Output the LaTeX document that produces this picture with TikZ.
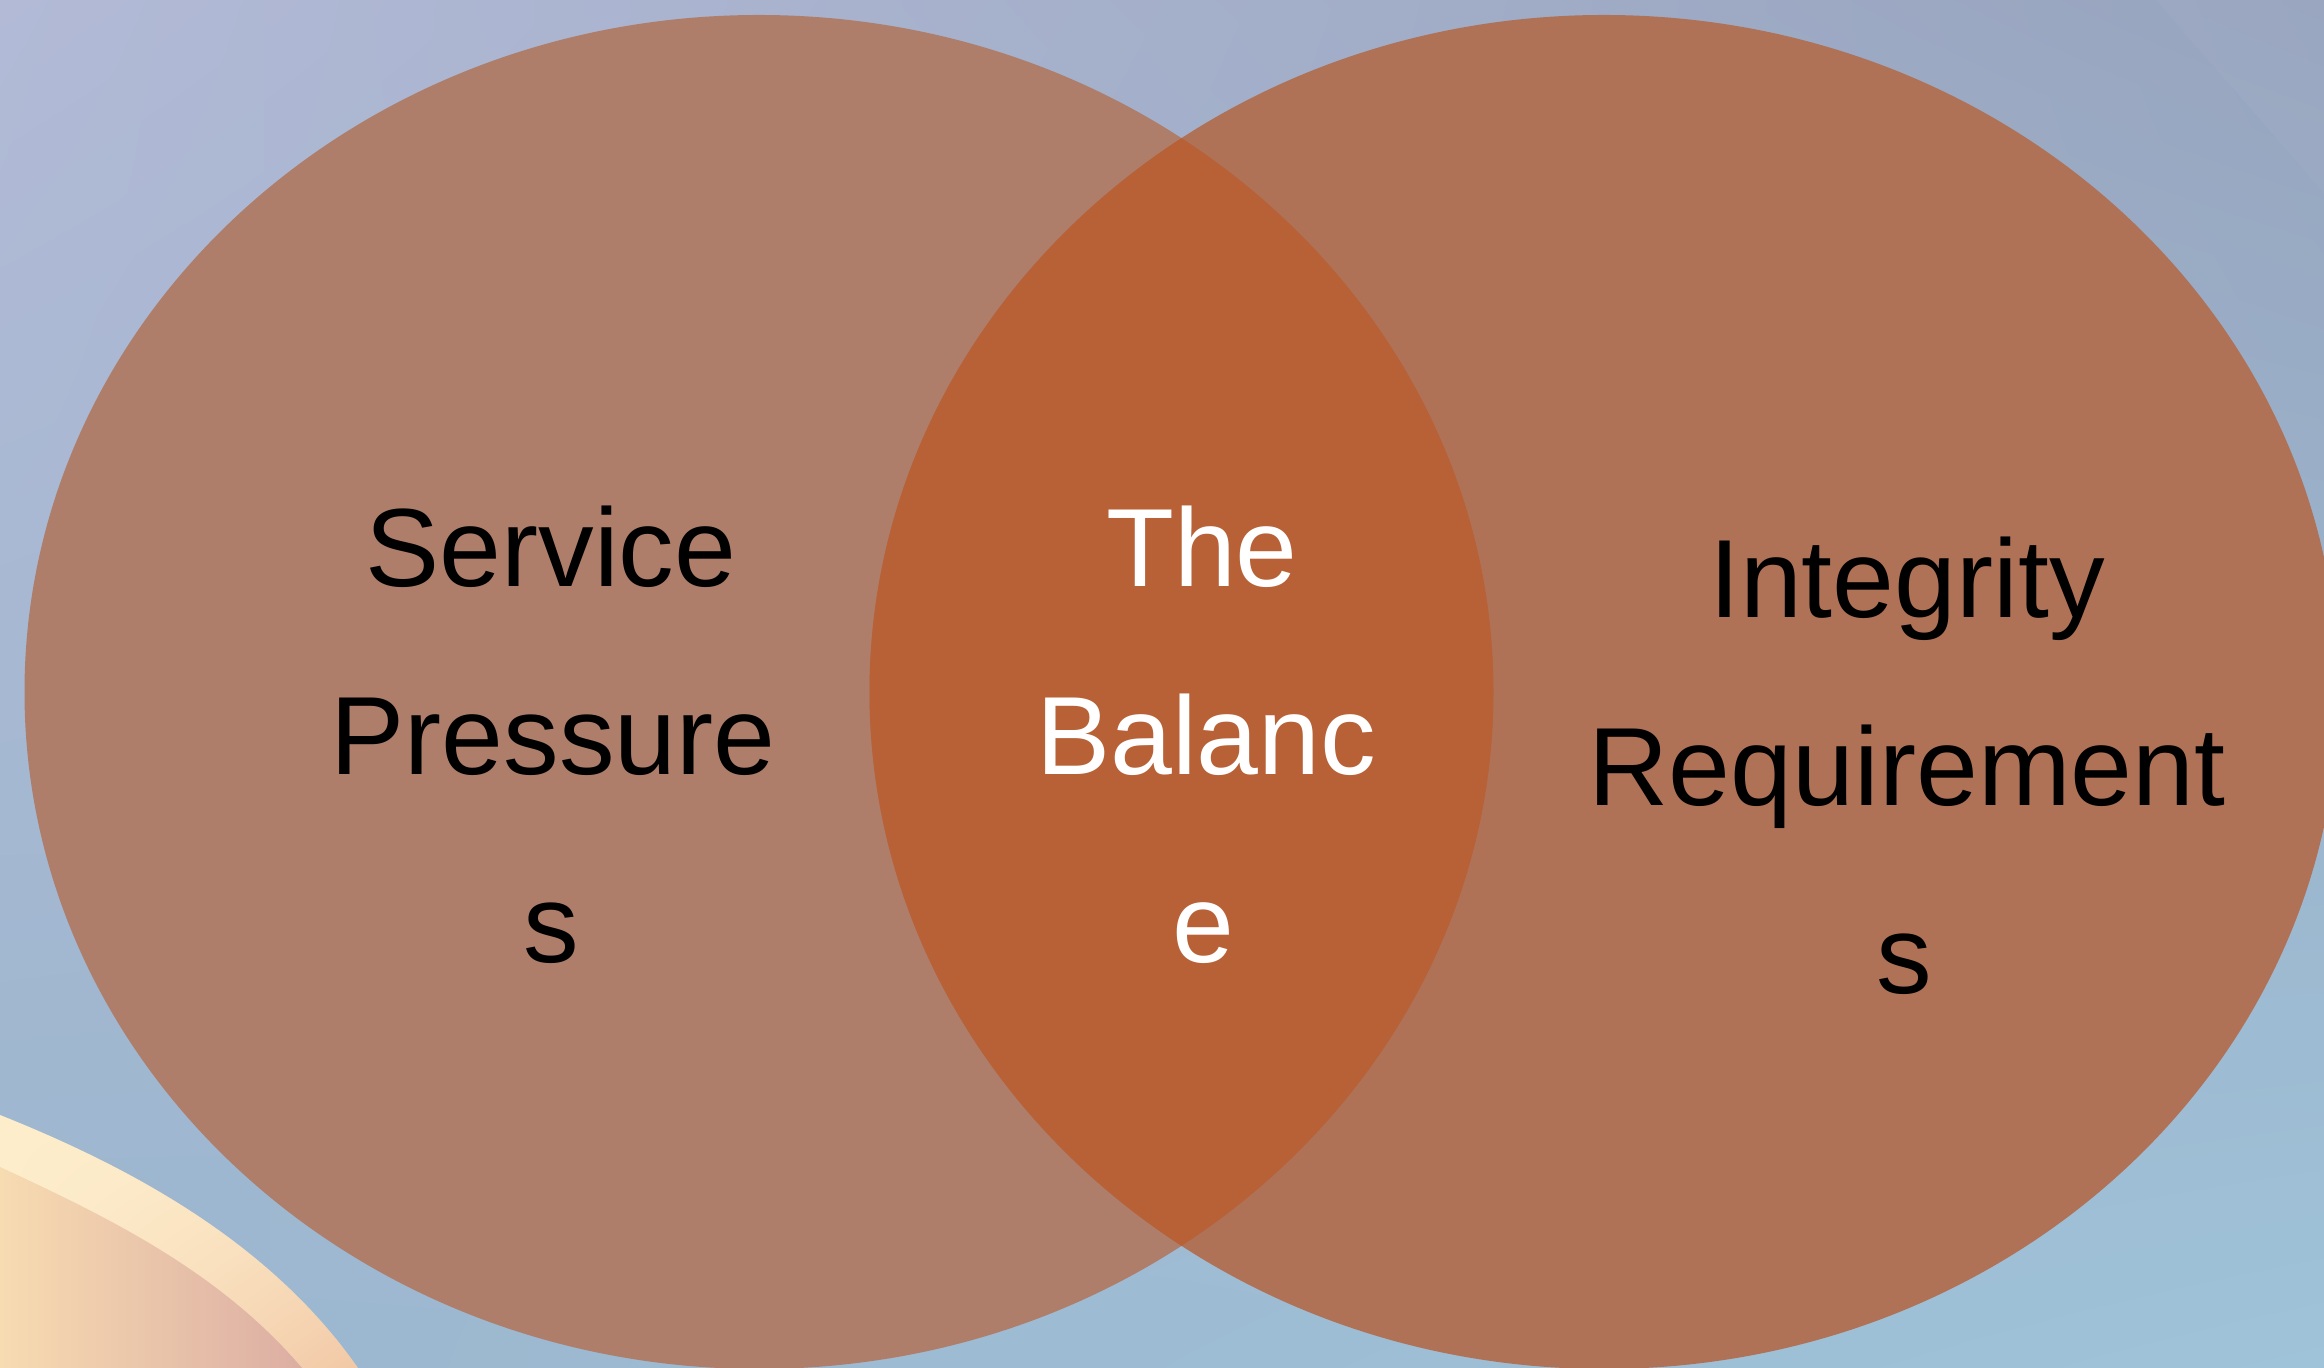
\documentclass[tikz,border=0pt]{standalone}
\usepackage{fontspec}
\setmainfont{Liberation Sans}
\usetikzlibrary{shadings}
\begin{document}
\begin{tikzpicture}[x=0.25pt,y=0.25pt,
  lbl/.style={anchor=base,inner sep=0pt,font=\fontsize{27.8}{33}\selectfont,text=black},
  wlbl/.style={lbl,text=white},
  leftset/.style={fill=leftc},
  rightset/.style={fill=rightc},
  lensset/.style={fill=lensc}]
\definecolor{bgUL}{HTML}{B2BAD6}
\definecolor{bgUR}{HTML}{97A4BE}
\definecolor{bgLL}{HTML}{9BB6CE}
\definecolor{bgLR}{HTML}{9FC3D9}
\definecolor{leftc}{HTML}{AE7E6B}
\definecolor{rightc}{HTML}{B07257}
\definecolor{lensc}{HTML}{B86036}
\definecolor{bandA}{HTML}{FDEDCB}
\definecolor{bandB}{HTML}{F2C8A6}
\definecolor{inA}{HTML}{F7DBB1}
\definecolor{inB}{HTML}{DCAEA3}
\clip (0,0) rectangle (2324,1368);
% background
\shade[upper left=bgUL,upper right=bgUR,lower left=bgLL,lower right=bgLR] (0,0) rectangle (2324,1368);
\fill[white,opacity=0.03] (2156,1368) -- (2324,1175) -- (2324,1368) -- cycle;
% bottom-left swoosh
\shade[upper left=bandA,upper right=bandA,lower left=bandA,lower right=bandB]
  (0,253) .. controls (130,201) and (270,126) .. (358,0) -- (0,0) -- cycle;
\shade[left color=inA,right color=inB]
  (0,201) .. controls (110,150) and (220,96) .. (302,0) -- (0,0) -- cycle;
% sets
\fill[leftset] (759,676) ellipse [x radius=734.5, y radius=677];
\fill[rightset] (1604,676) ellipse [x radius=734.5, y radius=677];
\begin{scope}
  \clip (759,676) ellipse [x radius=734.5, y radius=677];
  \fill[lensset] (1604,676) ellipse [x radius=734.5, y radius=677];
\end{scope}
% labels
\node[lbl] (sp1) at (551,781) {Service};
\node[lbl] (sp2) at (553,593) {Pressure};
\node[lbl] (sp3) at (551,405) {s};
\node[wlbl] (tb1) at (1202,781) {The};
\node[wlbl] (tb2) at (1206,593) {Balanc};
\node[wlbl] (tb3) at (1203,405) {e};
\node[lbl] (ir1) at (1907,750) {Integrity};
\node[lbl] (ir2) at (1907,562) {Requirement};
\node[lbl] (ir3) at (1904,374) {s};
\end{tikzpicture}
\end{document}
